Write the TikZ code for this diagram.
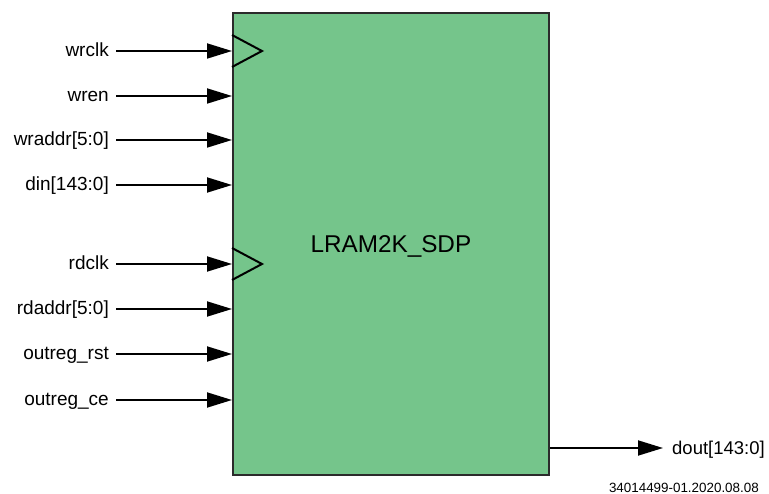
\documentclass[tikz,border=0pt]{standalone}
\usepackage{fontspec}
\setmainfont{Liberation Sans}
\usepackage{xcolor}
\usetikzlibrary{arrows.meta, positioning}

\definecolor{ramgreen}{HTML}{75C58B}
\definecolor{edgegray}{HTML}{2B2B2B}

\tikzset{
    sig/.style={line width=1.8pt, -{Triangle[length=25pt, width=15pt]}},
    pinlabel/.style={anchor=east, inner xsep=7pt, text height=13pt, text depth=1pt,
        font=\fontsize{19}{21}\selectfont},
    outlabel/.style={anchor=west, inner xsep=9pt, text height=13pt, text depth=1pt,
        font=\fontsize{18.5}{20}\selectfont},
    clk/.style={line width=2pt, black}
}

\begin{document}
\begin{tikzpicture}[x=1pt, y=-1pt]
    \useasboundingbox (0,0) rectangle (769,494);

    % LRAM2K_SDP block
    \node[draw=edgegray, line width=1.8pt, fill=ramgreen, anchor=north west,
          minimum width=316pt, minimum height=462pt, inner sep=0pt] (ram) at (232,12) {};
    \node[text height=17.5pt, text depth=0pt, font=\fontsize{24.3}{26}\selectfont] (title) at (ram.center) {LRAM2K\_SDP};

    % Write port
    \node[pinlabel] (wrclk) at (116,51) {wrclk};
    \node[pinlabel] (wren) at (116,96) {wren};
    \node[pinlabel] (wraddr) at (116,140) {wraddr[5:0]};
    \node[pinlabel] (din) at (116,185) {din[143:0]};

    % Read port
    \node[pinlabel] (rdclk) at (116,264) {rdclk};
    \node[pinlabel] (rdaddr) at (116,309) {rdaddr[5:0]};
    \node[pinlabel] (outregrst) at (116,354) {outreg\_rst};
    \node[pinlabel] (outregce) at (116,400) {outreg\_ce};

    % Output
    \node[outlabel] (dout) at (663,448) {dout[143:0]};

    % Connections
    \draw[sig] (wrclk.east) -- (wrclk.east -| ram.west);
    \draw[sig] (wren.east) -- (wren.east -| ram.west);
    \draw[sig] (wraddr.east) -- (wraddr.east -| ram.west);
    \draw[sig] (din.east) -- (din.east -| ram.west);
    \draw[sig] (rdclk.east) -- (rdclk.east -| ram.west);
    \draw[sig] (rdaddr.east) -- (rdaddr.east -| ram.west);
    \draw[sig] (outregrst.east) -- (outregrst.east -| ram.west);
    \draw[sig] (outregce.east) -- (outregce.east -| ram.west);
    \draw[sig] (dout.west -| ram.east) -- (dout.west);

    % Clock marks
    \draw[clk] (wrclk.east -| ram.west) ++(0,-16) -- ++(30,16) -- ++(-30,16);
    \draw[clk] (rdclk.east -| ram.west) ++(0,-16) -- ++(30,16) -- ++(-30,16);

    % Figure number
    \node[anchor=base east, inner sep=0pt, font=\fontsize{13.4}{15}\selectfont] (fignum) at (759,492) {34014499-01.2020.08.08};
\end{tikzpicture}
\end{document}
